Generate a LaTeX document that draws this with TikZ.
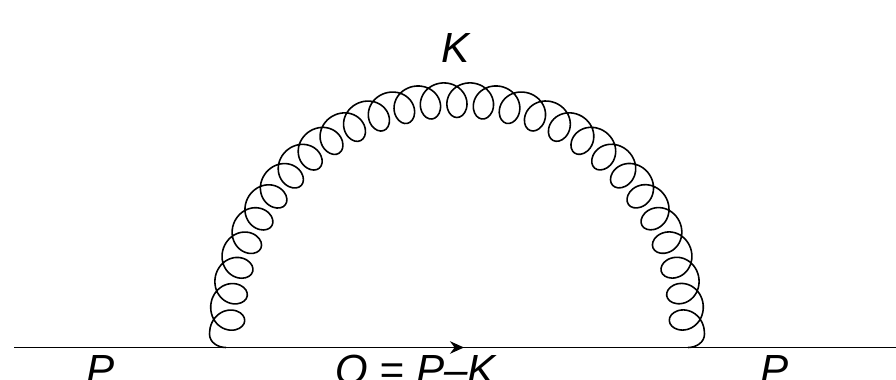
\documentclass[tikz,border=0pt]{standalone}
\usepackage{fontspec}
\setmainfont{Liberation Sans}
\usetikzlibrary{arrows.meta,positioning}

\begin{document}
\begin{tikzpicture}[
        x=0.02cm, y=0.02cm,
        font=\fontsize{24}{28}\selectfont\itshape,
        label/.style={anchor=base, inner sep=0pt},
        fermion/.style={line width=1pt},
        gluon/.style={line width=0.9pt, line join=round},
        declare function={
            gth(\t)=180.86-0.018694*\t-4.1*sin(\t);
            grad(\t)=230+17.5*cos(\t);
        }
    ]
        \useasboundingbox (0,0) rectangle (896,379);
        \coordinate (pin) at (14,31.5);
        \coordinate (pout) at (896,31.5);
        \coordinate (vl) at (226,31.5);
        \coordinate (vr) at (688,31.5);
        \coordinate (gl) at (209.5,45);
        \coordinate (gr) at (704.5,45);
        \coordinate (tip) at (464,31.5);
        \draw[fermion] (pin) -- (pout);
        \draw[fermion, -{Stealth[length=0.28cm, width=0.25cm]}] (pin) -- (tip);
        % the coil runs over the half circle
        \draw[gluon] (vl) to[out=180, in=-90] (gl)
            -- plot[domain=0:9720, samples=649, smooth, variable=\t] ({457+grad(\t)*cos(gth(\t))}, {49+grad(\t)*sin(gth(\t))})
            -- (gr) to[out=-90, in=0] (vr);
        \node[label] (k) at (456,316) {K};
        \node[label] (pl) at (101,-5) {P};
        \node[label] (q) at (415.5,-5) {Q = P\textendash K};
        \node[label] (pr) at (775,-5) {P};
    \end{tikzpicture}
\end{document}
